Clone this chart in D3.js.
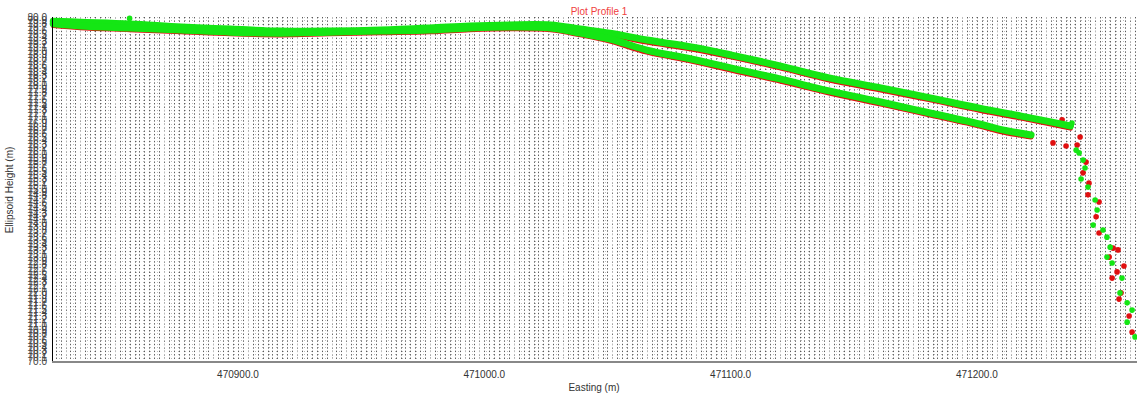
<!DOCTYPE html>
<html><head><meta charset="utf-8">
<script src="https://cdn.jsdelivr.net/npm/d3@7"></script>
<style>body{margin:0;background:#fff}svg{display:block;font-family:"Liberation Sans",Arial,sans-serif}</style>
</head><body>
<script>
// ---- data ----
const xTickValues = [470900, 471000, 471100, 471200];
const yDomain = [70.0, 80.0];
const xDomain = [470824.5, 471265];

// upper track
const trackAEasting = [470825,470836,470856,470877,470897,470917,470937,470958,470978,470994,471010,471027,471039,471051,471066,471084,471100,471120,471140,471161,471181,471201,471218,471230,471238];
const trackAGreen = [79.88,79.85,79.80,79.71,79.65,79.59,79.59,79.62,79.68,79.74,79.77,79.77,79.65,79.53,79.33,79.13,78.90,78.58,78.23,77.94,77.65,77.35,77.12,76.95,76.83];
const trackARed   = [79.83,79.80,79.75,79.66,79.60,79.54,79.54,79.57,79.63,79.69,79.72,79.72,79.60,79.48,79.27,79.07,78.84,78.52,78.17,77.88,77.59,77.29,77.06,76.89,76.77];
// lower track
const trackBEasting = [470825,470836,470856,470877,470897,470917,470937,470958,470978,470994,471010,471027,471039,471051,471066,471084,471100,471120,471140,471161,471181,471201,471209,471222];
const trackBGreen = [79.80,79.74,79.68,79.62,79.56,79.53,79.56,79.59,79.62,79.68,79.71,79.68,79.53,79.36,79.04,78.78,78.52,78.20,77.85,77.53,77.21,76.89,76.74,76.57];
const trackBRed   = [79.75,79.69,79.63,79.57,79.51,79.48,79.51,79.54,79.57,79.63,79.66,79.63,79.48,79.30,78.98,78.72,78.46,78.14,77.79,77.47,77.15,76.83,76.68,76.51];
// cliff points
const cliffGreenEasting = [470856,471238.6,471240.3,471241.5,471243.1,471243.9,471242.3,471245.1,471248.0,471248.8,471247.2,471251.2,471252.8,471254.1,471252.8,471254.9,471258.9,471258.1,471261.0,471263.0,471261.0,471264.2];
const cliffGreenHeight  = [79.96,76.92,76.13,76.05,75.84,75.61,75.29,75.06,74.68,74.39,73.95,73.81,73.60,73.31,73.02,72.85,72.41,71.98,71.69,71.48,71.13,70.70];
const cliffRedEasting = [471234.6,471237.0,471241.9,471230.9,471236.2,471240.7,471244.3,471243.1,471245.5,471245.1,471249.6,471248.4,471249.6,471255.3,471257.3,471253.7,471256.9,471254.9,471259.7,471258.5,471257.7,471261.8,471263.0];
const cliffRedHeight  = [77.01,76.80,76.51,76.34,76.25,76.28,75.78,75.47,75.17,74.83,74.62,74.19,73.72,73.28,73.23,73.02,72.59,72.41,72.76,71.98,71.80,71.31,70.84];

// ---- layout ----
const W = 1137, H = 396;
const m = {left: 52, right: 0, top: 17, bottom: 35};
const svg = d3.select("body").append("svg").attr("width", W).attr("height", H);
const x = d3.scaleLinear().domain(xDomain).range([m.left, W - m.right]);
const y = d3.scaleLinear().domain(yDomain).range([H - m.bottom, m.top]);

const yTicks = d3.range(0, 101).map(i => +(yDomain[0] + i * 0.1).toFixed(1));
const xGrid = d3.range(470826, 471266, 2);

// grid
const g = svg.append("g");
g.selectAll("line.v").data(xGrid).join("line")
  .attr("x1", d => Math.round(x(d)) + 0.5).attr("x2", d => Math.round(x(d)) + 0.5)
  .attr("y1", y(yDomain[1])).attr("y2", y(yDomain[0]))
  .attr("stroke", "#5a5a5a").attr("stroke-width", 1).attr("stroke-dasharray", "1.4,2.04");
g.selectAll("line.h").data(yTicks).join("line")
  .attr("x1", m.left).attr("x2", W)
  .attr("y1", d => Math.round(y(d)) + 0.5).attr("y2", d => Math.round(y(d)) + 0.5)
  .attr("stroke", "#bbb").attr("stroke-width", 1).attr("stroke-dasharray", "1,6");

// series
const line = d3.line().x(d => x(d[0])).y(d => y(d[1])).curve(d3.curveCatmullRom);
const zip = (a, b) => a.map((v, i) => [v, b[i]]);
const plot = svg.append("g");
const red = "#e01010", green = "#14e614";
[trackARed, trackBRed].forEach((hs, k) => {
  const e = k === 0 ? trackAEasting : trackBEasting;
  plot.append("path").datum(zip(e, hs)).attr("d", line)
    .attr("fill", "none").attr("stroke", red).attr("stroke-width", 5).attr("stroke-linecap", "round");
});
plot.selectAll("circle.r").data(zip(cliffRedEasting, cliffRedHeight)).join("circle")
  .attr("cx", d => x(d[0])).attr("cy", d => y(d[1])).attr("r", 2.8).attr("fill", red);
[trackAGreen, trackBGreen].forEach((hs, k) => {
  const e = k === 0 ? trackAEasting : trackBEasting;
  plot.append("path").datum(zip(e, hs)).attr("d", line)
    .attr("fill", "none").attr("stroke", green).attr("stroke-width", 7).attr("stroke-linecap", "round");
});
plot.selectAll("circle.g").data(zip(cliffGreenEasting, cliffGreenHeight)).join("circle")
  .attr("cx", d => x(d[0])).attr("cy", d => y(d[1])).attr("r", 2.8).attr("fill", green);

// axes
svg.append("line").attr("x1", m.left + 0.5).attr("x2", m.left + 0.5)
  .attr("y1", m.top).attr("y2", H - m.bottom).attr("stroke", "#000");
svg.append("line").attr("x1", m.left).attr("x2", W)
  .attr("y1", H - m.bottom + 1).attr("y2", H - m.bottom + 1).attr("stroke", "#888").attr("stroke-width", 2);

svg.append("g").selectAll("text").data(yTicks).join("text")
  .attr("x", 47).attr("y", d => y(d)).attr("dy", "0.35em")
  .attr("text-anchor", "end").attr("font-size", 10).attr("fill", "#444")
  .text(d => d.toFixed(1));

svg.append("g").selectAll("text").data(xTickValues).join("text")
  .attr("x", d => x(d)).attr("y", 378)
  .attr("text-anchor", "middle").attr("font-size", 10).attr("fill", "#333")
  .text(d => d.toFixed(1));

svg.append("text").attr("x", 594).attr("y", 391).attr("text-anchor", "middle")
  .attr("font-size", 10).attr("fill", "#333").text("Easting (m)");
svg.append("text").attr("transform", "translate(13,190) rotate(-90)").attr("text-anchor", "middle")
  .attr("font-size", 10).attr("fill", "#333").text("Ellipsoid Height (m)");
svg.append("text").attr("x", 599).attr("y", 15).attr("text-anchor", "middle")
  .attr("font-size", 10).attr("fill", "#f04040").text("Plot Profile 1");
</script>
</body></html>
